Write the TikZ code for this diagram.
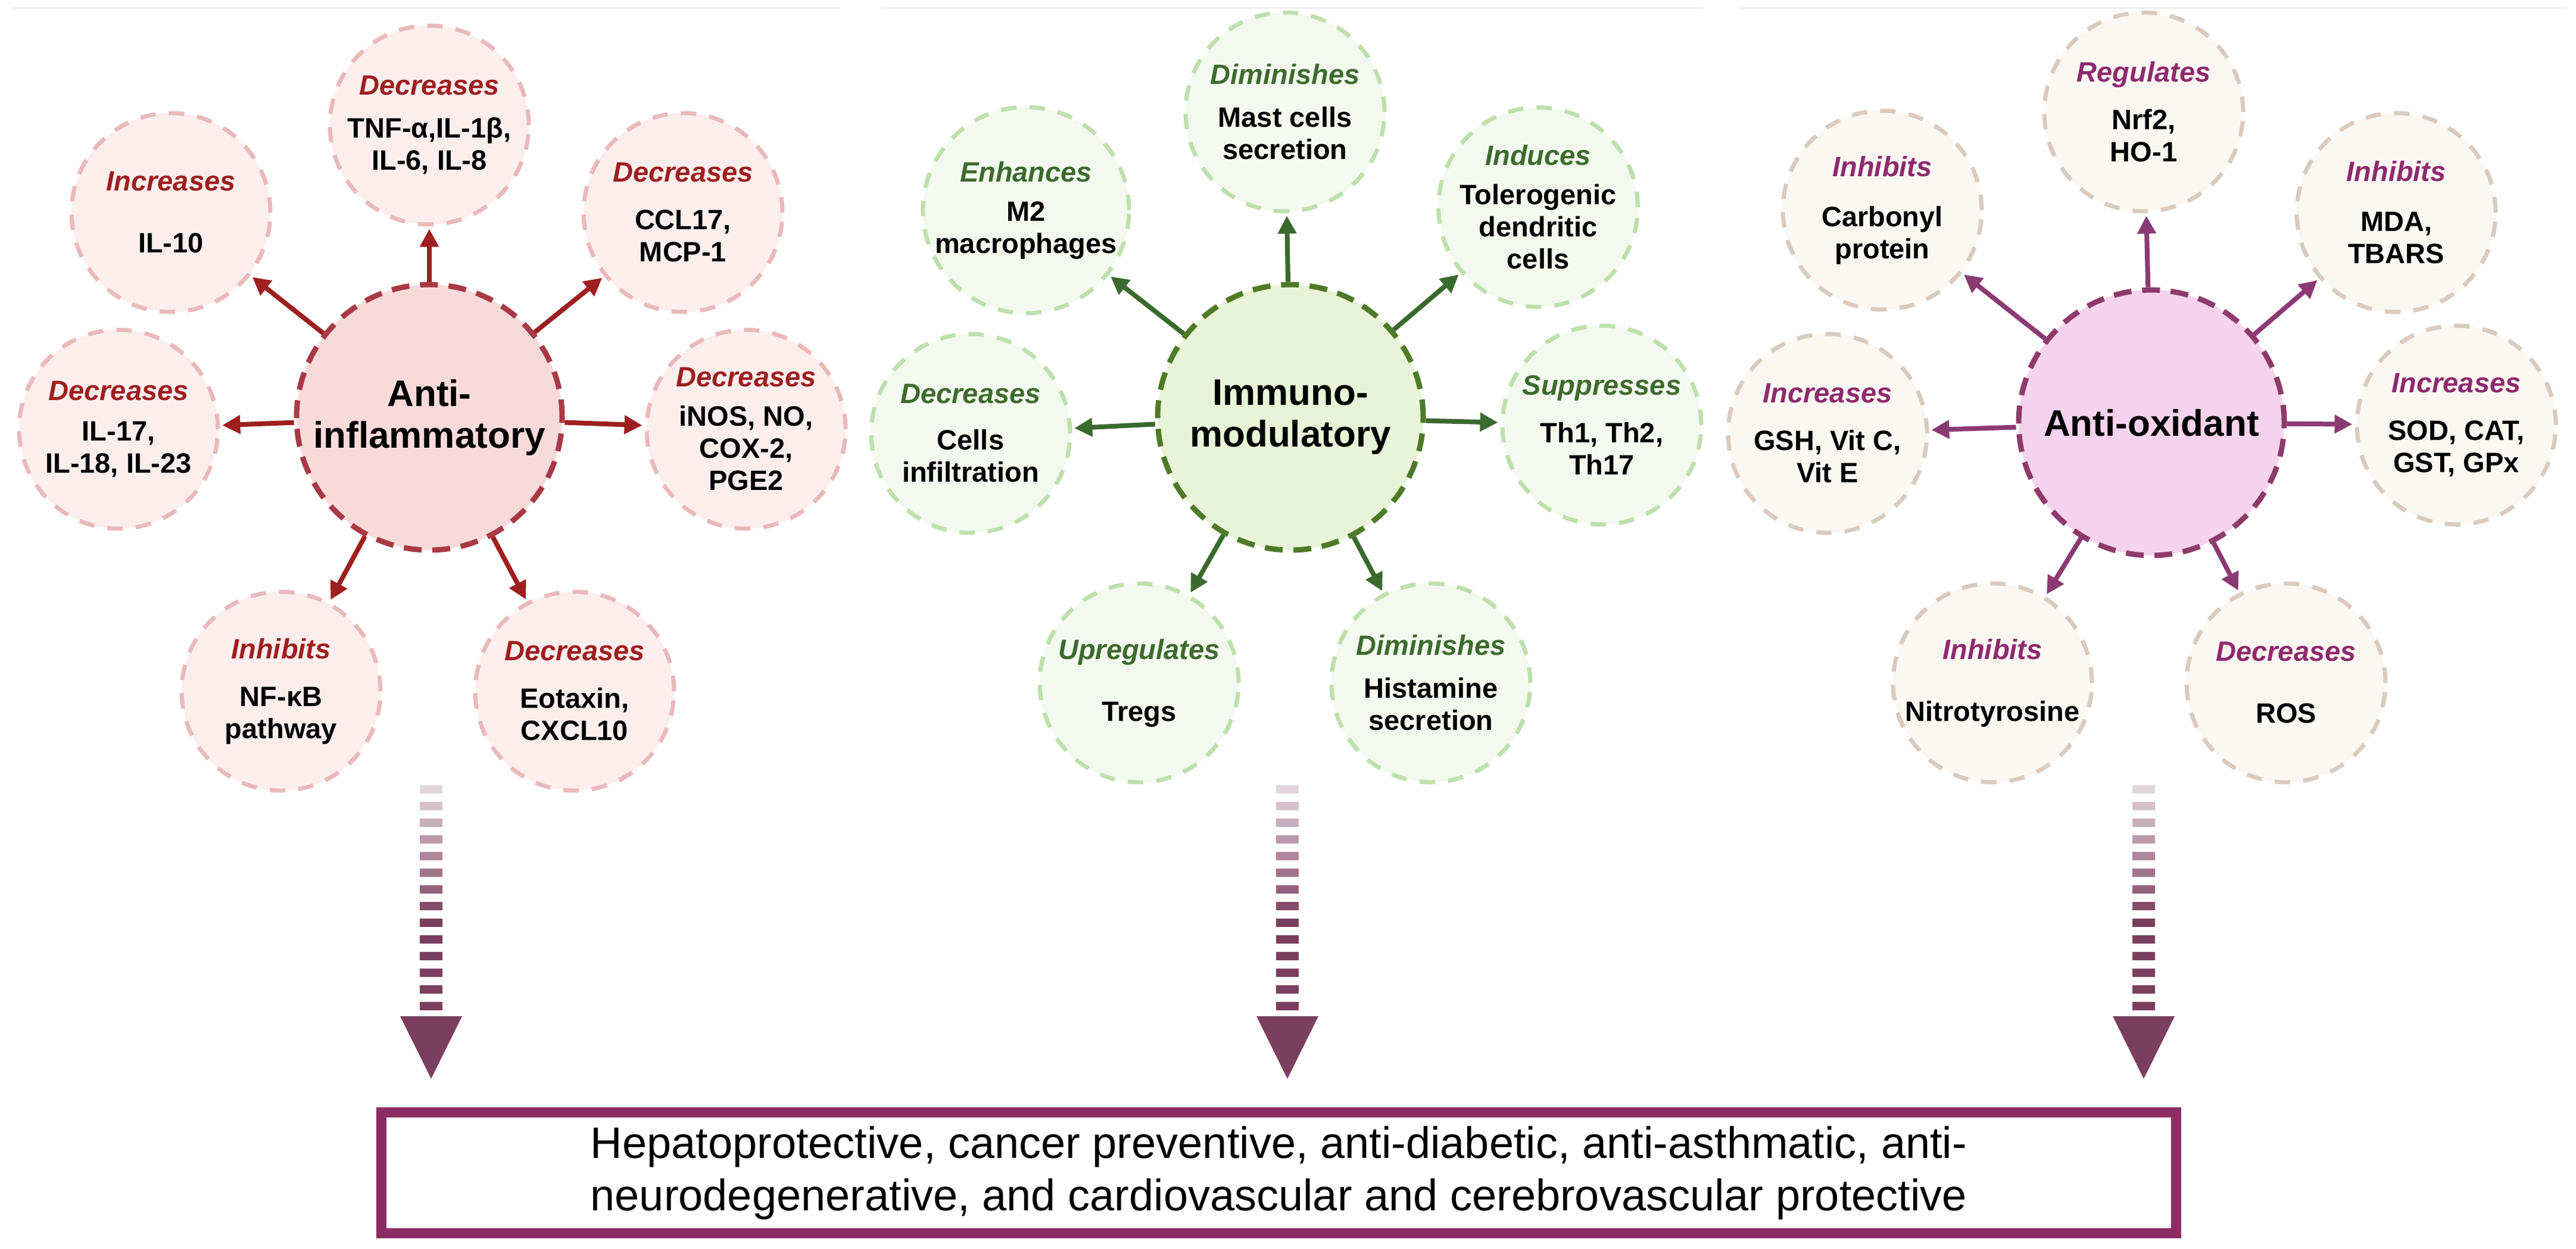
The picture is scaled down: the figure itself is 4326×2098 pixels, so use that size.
\documentclass[tikz,border=0pt]{standalone}
\usepackage{fontspec}
\setmainfont{Liberation Sans}
\usetikzlibrary{arrows.meta}
\definecolor{rA}{HTML}{9E1F1F}\definecolor{rAc}{HTML}{F9DADA}\definecolor{rAb}{HTML}{A83A45}
\definecolor{rAs}{HTML}{FDEEEE}\definecolor{rAsb}{HTML}{E9B9BC}
\definecolor{gA}{HTML}{3A6A2E}\definecolor{gAc}{HTML}{E8F3D8}\definecolor{gAb}{HTML}{4F7A28}
\definecolor{gAs}{HTML}{F3F9EE}\definecolor{gAsb}{HTML}{BEE0AC}\definecolor{gAl}{HTML}{3D6B2E}
\definecolor{pA}{HTML}{8C3A74}\definecolor{pAc}{HTML}{F5D3EC}\definecolor{pAb}{HTML}{8E3A6A}
\definecolor{pAs}{HTML}{FBF7F2}\definecolor{pAsb}{HTML}{D9CBBE}\definecolor{pAl}{HTML}{8E2A6E}
\definecolor{dar}{HTML}{7B3F5E}\definecolor{boxc}{HTML}{8B2D63}
\begin{document}
\begin{tikzpicture}[x=1pt,y=-1pt,
 sat/.style={circle,minimum size=334pt,inner sep=0pt,line width=7pt,dash pattern=on 26pt off 22pt,align=center,font=\fontsize{47}{54}\selectfont\bfseries},
 cen/.style={circle,minimum size=446pt,inner sep=0pt,line width=9pt,dash pattern=on 30pt off 18pt,align=center,font=\fontsize{62}{70}\selectfont\bfseries},
 satA/.style={sat,draw=rAsb,fill=rAs},
 satB/.style={sat,draw=gAsb,fill=gAs},
 satC/.style={sat,draw=pAsb,fill=pAs},
 arr/.style={line width=8pt,-{Triangle[length=30pt,width=30pt]},shorten >=4pt},
 arA/.style={arr,draw=rA},arB/.style={arr,draw=gA},arC/.style={arr,draw=pA}]
\useasboundingbox (0,0) rectangle (4326,2098);
\fill[white] (0,0) rectangle (4326,2098);
\draw[black!6,line width=3pt] (20,14)--(1410,14) (1480,14)--(2860,14) (2920,14)--(4310,14);
\newcommand{\lbA}[1]{{\color{rA}\itshape #1}}
\newcommand{\lbB}[1]{{\color{gAl}\itshape #1}}
\newcommand{\lbC}[1]{{\color{pAl}\itshape #1}}
% ---------- left cluster
\node[cen,draw=rAb,fill=rAc] (cA) at (721,701) {Anti-\\inflammatory};
\node[satA] (a1) at (721,210) {\lbA{Decreases}\\[18pt]TNF-α,IL-1β,\\IL-6, IL-8};
\node[satA] (a2) at (287,357) {\lbA{Increases}\\[50pt]IL-10};
\node[satA] (a3) at (1147,357) {\lbA{Decreases}\\[26pt]CCL17,\\MCP-1};
\node[satA] (a4) at (199,721) {\lbA{Decreases}\\[14pt]IL-17,\\IL-18, IL-23};
\node[satA] (a5) at (1253,721) {\lbA{Decreases}\\[12pt]iNOS, NO,\\COX-2,\\PGE2};
\node[satA] (a6) at (472,1161) {\lbA{Inhibits}\\[26pt]NF-κB\\pathway};
\node[satA] (a7) at (965,1161) {\lbA{Decreases}\\[26pt]Eotaxin,\\CXCL10};
\foreach \s in {a1,a2,a3,a4,a5,a6,a7} \draw[arA] (cA) -- (\s);
% ---------- middle cluster
\node[cen,draw=gAb,fill=gAc] (cB) at (2167,701) {Immuno-\\modulatory};
\node[satB] (b1) at (2158,188) {\lbB{Diminishes}\\[18pt]Mast cells\\secretion};
\node[satB] (b2) at (1723,353) {\lbB{Enhances}\\[12pt]M2\\macrophages};
\node[satB] (b3) at (2583,348) {\lbB{Induces}\\[12pt]Tolerogenic\\dendritic\\cells};
\node[satB] (b4) at (1630,728) {\lbB{Decreases}\\[24pt]Cells\\infiltration};
\node[satB] (b5) at (2690,714) {\lbB{Suppresses}\\[26pt]Th1, Th2,\\Th17};
\node[satB] (b6) at (1913,1147) {\lbB{Upregulates}\\[50pt]Tregs};
\node[satB] (b7) at (2403,1147) {\lbB{Diminishes}\\[18pt]Histamine\\secretion};
\foreach \s in {b1,b2,b3,b4,b5,b6,b7} \draw[arB] (cB) -- (\s);
% ---------- right cluster
\node[cen,draw=pAb,fill=pAc] (cC) at (3613,710) {Anti-oxidant};
\node[satC] (c1) at (3600,188) {\lbC{Regulates}\\[26pt]Nrf2,\\HO-1};
\node[satC] (c2) at (3161,353) {\lbC{Inhibits}\\[30pt]Carbonyl\\protein};
\node[satC] (c3) at (4024,357) {\lbC{Inhibits}\\[30pt]MDA,\\TBARS};
\node[satC] (c4) at (3069,728) {\lbC{Increases}\\[26pt]GSH, Vit C,\\Vit E};
\node[satC] (c5) at (4125,714) {\lbC{Increases}\\[26pt]SOD, CAT,\\GST, GPx};
\node[satC] (c6) at (3346,1147) {\lbC{Inhibits}\\[50pt]Nitrotyrosine};
\node[satC] (c7) at (3839,1147) {\lbC{Decreases}\\[50pt]ROS};
\foreach \s in {c1,c2,c3,c4,c5,c6,c7} \draw[arC] (cC) -- (\s);
% ---------- bottom box
\node[draw=boxc,line width=17pt,minimum width=3014pt,minimum height=203pt,inner sep=0pt,align=center,
  font=\fontsize{74}{88}\selectfont] (res) at (2147.5,1970)
  {Hepatoprotective, cancer preventive, anti-diabetic, anti-asthmatic, anti-\\neurodegenerative, and cardiovascular and cerebrovascular protective};
% ---------- dotted arrows
\foreach \xx/\nm in {724/dA,2162/dB,3600/dC}{
  \coordinate (\nm top) at (\xx,1319);
  \coordinate (\nm tip) at (\xx,1812);
  \foreach \i in {0,...,13}{
    \pgfmathsetmacro{\mix}{min(100,22+\i*10)}
    \pgfmathsetmacro{\yy}{1319+\i*28}
    \fill[dar!\mix!white] (\xx-19,\yy) rectangle ++(38,14);
  }
  \fill[dar] (\xx-52,1707) -- (\xx+52,1707) -- (\nm tip) -- cycle;
}
\end{tikzpicture}
\end{document}
